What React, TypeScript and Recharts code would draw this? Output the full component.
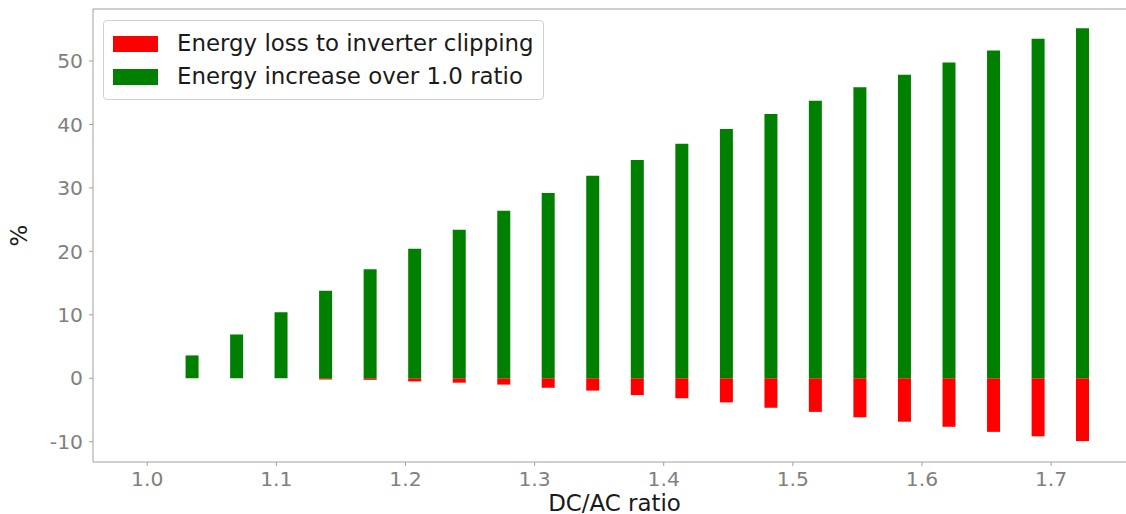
import React from "react";
import {
  BarChart,
  Bar,
  XAxis,
  YAxis,
  Legend,
  Label,
  ReferenceLine,
} from "recharts";

// DC/AC ratios (one extra module per step)
const ratios = [
  1.0, 1.0345, 1.069, 1.1034, 1.1379, 1.1724, 1.2069, 1.2414, 1.2759, 1.3103, 1.3448,
  1.3793, 1.4138, 1.4483, 1.4828, 1.5172, 1.5517, 1.5862, 1.6207, 1.6552, 1.6897, 1.7241,
];

// Energy loss to inverter clipping (%), drawn below zero
const clippingLoss = [
  0, 0, 0, 0, -0.2, -0.25, -0.5, -0.7, -1.0, -1.5, -1.95,
  -2.65, -3.15, -3.8, -4.65, -5.3, -6.15, -6.85, -7.65, -8.45, -9.15, -9.9,
];

// Energy increase over the 1.0 ratio (%)
const energyGain = [
  0, 3.6, 6.9, 10.4, 13.8, 17.2, 20.4, 23.4, 26.4, 29.2, 31.9,
  34.4, 36.95, 39.3, 41.65, 43.75, 45.85, 47.85, 49.75, 51.65, 53.5, 55.15,
];

const xTicks = [1.0, 1.1, 1.2, 1.3, 1.4, 1.5, 1.6, 1.7];
const yTicks = [-10, 0, 10, 20, 30, 40, 50];

const legendItems = [
  { label: "Energy loss to inverter clipping", color: "#ff0000" },
  { label: "Energy increase over 1.0 ratio", color: "#008000" },
];

const data = ratios.map((ratio, i) => ({
  ratio,
  loss: clippingLoss[i],
  gain: energyGain[i],
}));

const FONT = "DejaVu Sans, sans-serif";
const SPINE = "#a0a0a0";
const TICK_TEXT = "#808080";
const Y_MIN = -13.2;
const Y_MAX = 58.2;

// matplotlib-like legend box
const LegendBox = () => (
  <div
    style={{
      border: "1px solid #d0d0d0",
      borderRadius: 4,
      background: "#fff",
      padding: "6px 9px 6px 9px",
      fontFamily: FONT,
      fontSize: 22.9,
      color: "#1a1a1a",
      lineHeight: "33px",
    }}
  >
    {legendItems.map((item) => (
      <div key={item.label} style={{ display: "flex", alignItems: "center", whiteSpace: "nowrap" }}>
        <span
          style={{
            display: "inline-block",
            width: 45,
            height: 16,
            background: item.color,
            marginRight: 19,
          }}
        />
        {item.label}
      </div>
    ))}
  </div>
);

const App = () => {
  return (
    <div style={{ position: "absolute", left: 0, top: 0, width: 1126, height: 514, overflow: "hidden" }}>
      <BarChart
        width={1126}
        height={514}
        data={data}
        stackOffset="sign"
        margin={{ top: 9, right: 0, bottom: 0, left: 0 }}
        style={{ fontFamily: FONT }}
      >
        <XAxis
          dataKey="ratio"
          type="number"
          domain={[0.958, 1.758]}
          allowDataOverflow
          ticks={xTicks}
          tickFormatter={(v: number) => v.toFixed(1)}
          height={52}
          stroke={SPINE}
          tickSize={4}
          tickMargin={6}
          tick={{ fill: TICK_TEXT, fontSize: 20.3 }}
        >
          <Label
            value="DC/AC ratio"
            position="insideBottom"
            offset={3}
            dx={5}
            style={{ fill: "#1a1a1a", fontSize: 22.9 }}
          />
        </XAxis>
        <YAxis
          type="number"
          domain={[Y_MIN, Y_MAX]}
          allowDataOverflow
          ticks={yTicks}
          width={93}
          stroke={SPINE}
          tickSize={4}
          tickMargin={6}
          tick={{ fill: TICK_TEXT, fontSize: 20.3 }}
        >
          <Label
            value="%"
            angle={-90}
            position="center"
            dx={-28}
            style={{ fill: "#1a1a1a", fontSize: 22.9 }}
          />
        </YAxis>
        {/* top spine */}
        <ReferenceLine y={Y_MAX} stroke={SPINE} strokeWidth={1} />
        <Legend
          layout="horizontal"
          verticalAlign="middle"
          align="center"
          content={<LegendBox />}
          wrapperStyle={{ left: 103, top: 20, width: 441, height: "auto" }}
        />
        <Bar dataKey="loss" stackId="a" fill="#ff0000" barSize={13} isAnimationActive={false} />
        <Bar dataKey="gain" stackId="a" fill="#008000" barSize={13} isAnimationActive={false} />
      </BarChart>
    </div>
  );
};

export default App;
